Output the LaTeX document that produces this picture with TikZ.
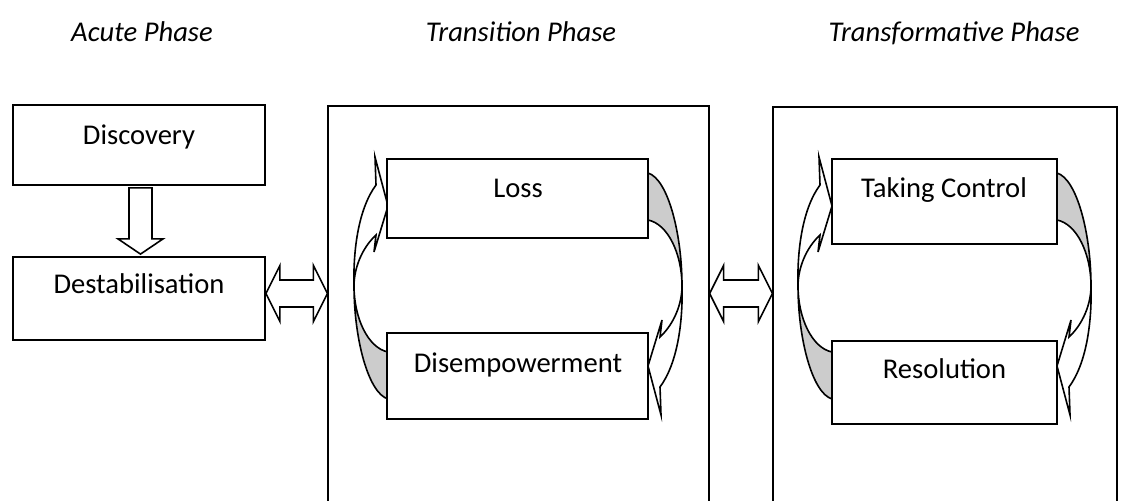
\documentclass[tikz,border=0pt]{standalone}
\usepackage{fontspec}
\setmainfont{Carlito}
\usetikzlibrary{calc,fit}
\newcommand\cvarrow[2]{%
 \begin{scope}[shift={#1},#2]
  \filldraw[cband, fill=black!20] (-34,8) .. controls (-34,40) and (-20,70) .. (0,74) -- (0,121) .. controls (-20,115) and (-34,60) .. (-34,8) -- cycle;
  \filldraw[cband, fill=white] (-12,-93) .. controls (-29,-70) and (-35,-30) .. (-34,8) .. controls (-34,-10) and (-26,-30) .. (-12,-43) -- (-14,-26) -- (0,-72) -- (-13,-121) -- cycle;
 \end{scope}}
\begin{document}
\begin{tikzpicture}[x=0.5pt,y=-0.5pt,
  box/.style={draw, line width=0.9pt, inner sep=0pt, fill=white},
  panel/.style={draw, line width=0.6pt, inner sep=0pt},
  lbl/.style={font=\fontsize{14.3pt}{17pt}\selectfont, inner sep=0pt, anchor=base},
  ttl/.style={font=\fontsize{14.3pt}{17pt}\selectfont\itshape, inner sep=0pt, anchor=base},
  blockarrow/.style={draw, line width=0.8pt, fill=white, line join=miter},
  cband/.style={draw, line width=0.8pt, line join=miter}]
\useasboundingbox (0,0) rectangle (1122,501);
\clip (0,0) rectangle (1122,501);

% titles
\node[ttl] (t1) at (142,42) {Acute Phase};
\node[ttl] (t2) at (521,42) {Transition Phase};
\node[ttl] (t3) at (954,42) {Transformative Phase};

% phase panels
\node[panel, fit={(328,106) (709,530)}] (mid) {};
\node[panel, fit={(773,107) (1117,530)}] (rgt) {};

% curved arrows
\cvarrow{(388,278)}{}
\cvarrow{(648,294)}{rotate=180}
\cvarrow{(832,278)}{}
\cvarrow{(1057,294)}{rotate=180}

% boxes
\node[box, fit={(13,105) (265,185)}] (disc) {};
\node[box, fit={(13,257) (265,340)}] (destab) {};
\node[box, fit={(387,159) (648,238)}] (loss) {};
\node[box, fit={(387,333) (648,419)}] (disemp) {};
\node[box, fit={(832,159) (1057,244)}] (taking) {};
\node[box, fit={(832,341) (1057,424)}] (resol) {};

% labels
\node[lbl] (disc-t) at (139,145) {Discovery};
\node[lbl] (destab-t) at (139,294) {Destabilisation};
\node[lbl] (loss-t) at (518,198) {Loss};
\node[lbl] (disemp-t) at (518,372) {Disempowerment};
\node[lbl] (taking-t) at (944,198) {Taking Control};
\node[lbl] (resol-t) at (944.5,379) {Resolution};

% down block arrow
\draw[blockarrow] ($(disc.south)+(-10,2)$) -- ($(disc.south)+(13,2)$) -- ($(disc.south)+(13,53)$) -- ($(disc.south)+(24,53)$) -- ($(destab.north)+(1.5,-2)$) -- ($(disc.south)+(-21,53)$) -- ($(disc.south)+(-10,53)$) -- cycle;

% double block arrows
\coordinate (a1l) at ($(destab.east)+(0,-5)$);
\coordinate (a1r) at (mid.west |- a1l);
\draw[blockarrow] (a1l) -- ++(14,-28) -- ++(0,14.5) -- ($(a1r)+(-14,-13.5)$) -- ++(0,-14.5) -- (a1r) -- ++(-14,28) -- ++(0,-14.5) -- ($(a1l)+(14,13.5)$) -- ++(0,14.5) -- cycle;
\coordinate (a2l) at (mid.east |- a1l);
\coordinate (a2r) at (rgt.west |- a1l);
\draw[blockarrow] (a2l) -- ++(14,-28) -- ++(0,14.5) -- ($(a2r)+(-14,-13.5)$) -- ++(0,-14.5) -- (a2r) -- ++(-14,28) -- ++(0,-14.5) -- ($(a2l)+(14,13.5)$) -- ++(0,14.5) -- cycle;
\end{tikzpicture}
\end{document}
